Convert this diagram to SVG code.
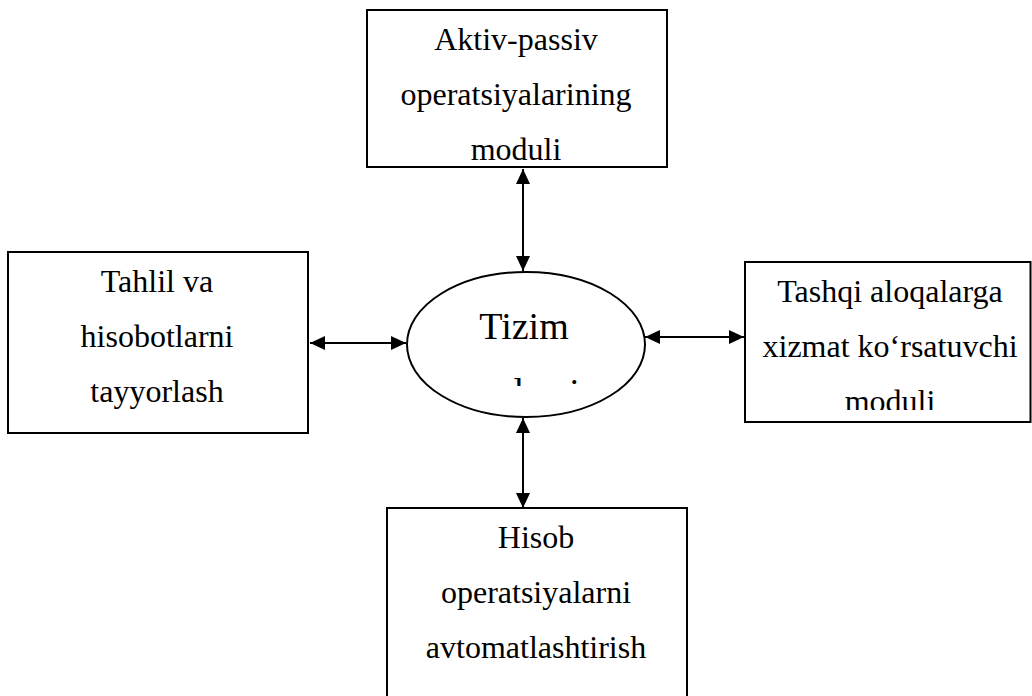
<svg xmlns="http://www.w3.org/2000/svg" width="1032" height="696" viewBox="0 0 1032 696">
  <style>
    .box { fill: #ffffff; stroke: #000000; stroke-width: 2; }
    .core { fill: #ffffff; stroke: #000000; stroke-width: 2; }
    .label { font-family: "Liberation Serif", "Times New Roman", serif; font-size: 32px; fill: #000000; text-anchor: middle; }
    .title { font-family: "Liberation Serif", "Times New Roman", serif; font-size: 38px; fill: #000000; text-anchor: middle; }
    .link { stroke: #000000; stroke-width: 2; fill: none; marker-start: url(#head); marker-end: url(#head); }
  </style>
  <defs>
    <marker id="head" viewBox="0 0 15 14" refX="15" refY="7" markerWidth="15" markerHeight="14" markerUnits="userSpaceOnUse" orient="auto-start-reverse">
      <path d="M0,0 L15,7 L0,14 z" fill="#000000"/>
    </marker>
    <clipPath id="coreClip">
      <rect x="400" y="270" width="250" height="116"/>
    </clipPath>
    <clipPath id="rightClip">
      <rect x="745" y="262" width="287" height="148"/>
    </clipPath>
  </defs>

  <rect width="1032" height="696" fill="#ffffff"/>

  <!-- connectors -->
  <g id="connectors">
    <line class="link" x1="310" y1="343" x2="406" y2="343"/>
    <line class="link" x1="645" y1="337" x2="744" y2="337"/>
    <line class="link" x1="523" y1="169" x2="523" y2="271"/>
    <line class="link" x1="523" y1="418" x2="523" y2="508"/>
  </g>

  <!-- top module -->
  <g id="node-aktiv-passiv">
    <rect class="box" x="367" y="10" width="300" height="157"/>
    <text class="label" x="516" y="50">Aktiv-passiv</text>
    <text class="label" x="516" y="105">operatsiyalarining</text>
    <text class="label" x="516" y="160">moduli</text>
  </g>

  <!-- left module -->
  <g id="node-tahlil">
    <rect class="box" x="8" y="252" width="300" height="181"/>
    <text class="label" x="157" y="292">Tahlil va</text>
    <text class="label" x="157" y="347">hisobotlarni</text>
    <text class="label" x="157" y="402">tayyorlash</text>
  </g>

  <!-- right module -->
  <g id="node-tashqi">
    <rect class="box" x="745" y="262" width="285.5" height="160"/>
    <g clip-path="url(#rightClip)">
      <text class="label" x="890" y="302">Tashqi aloqalarga</text>
      <text class="label" x="890" y="357">xizmat ko‘rsatuvchi</text>
      <text class="label" x="890" y="412">moduli</text>
    </g>
  </g>

  <!-- bottom module -->
  <g id="node-hisob">
    <rect class="box" x="387" y="508" width="300" height="200"/>
    <text class="label" x="536" y="548">Hisob</text>
    <text class="label" x="536" y="603">operatsiyalarni</text>
    <text class="label" x="536" y="658">avtomatlashtirish</text>
  </g>

  <!-- system core; second line is cut off by its text frame -->
  <g id="node-core">
    <ellipse class="core" cx="526" cy="344.5" rx="119" ry="72.5"/>
    <g clip-path="url(#coreClip)">
      <text class="title" x="524" y="339">Tizim</text>
      <text class="title" x="524" y="405">yadrosi</text>
    </g>
  </g>
</svg>
